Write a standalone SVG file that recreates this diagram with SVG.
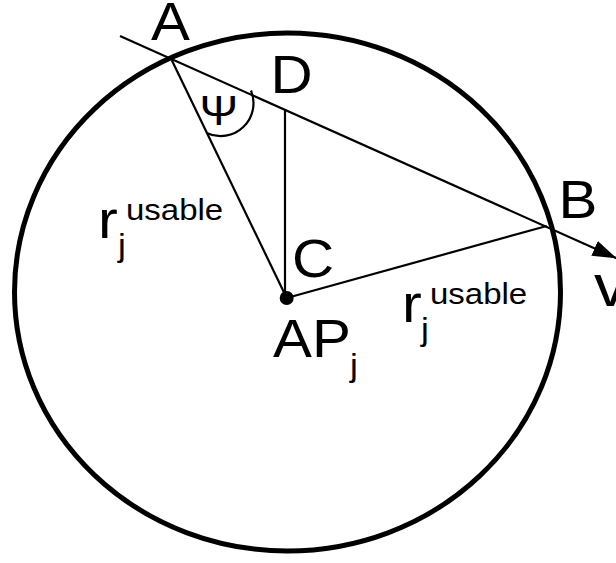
<svg xmlns="http://www.w3.org/2000/svg" width="616" height="563" viewBox="0 0 616 563">
  <style>
    .thin { stroke: #000; stroke-width: 2.2; fill: none; }
    .lbl { font-family: "Liberation Sans", Arial, sans-serif; fill: #000; }
    .big { font-size: 53px; }
    .sup { font-size: 30px; }
    .sub { font-size: 32px; }
  </style>
  <defs>
    <marker id="arrow" markerUnits="userSpaceOnUse" markerWidth="26" markerHeight="18" refX="24" refY="8" orient="auto">
      <path d="M0,0 L24,8 L0,16 Z" fill="#000"/>
    </marker>
  </defs>
  <rect width="616" height="563" fill="#fff"/>

  <g id="coverage">
    <ellipse cx="287.5" cy="292" rx="273" ry="259" fill="none" stroke="#000" stroke-width="5"/>
  </g>

  <g id="connectors">
    <line class="thin" x1="120" y1="36" x2="616.5" y2="258.2" marker-end="url(#arrow)"/>
    <line class="thin" x1="171.7" y1="60" x2="286.7" y2="298"/>
    <line class="thin" x1="286.7" y1="298" x2="546.7" y2="226"/>
    <line class="thin" x1="285" y1="109" x2="285" y2="298"/>
    <path class="thin" d="M251,90.5 A33,33 0 0 1 206.5,133"/>
  </g>

  <g id="AP">
    <circle cx="286.7" cy="298" r="7" fill="#000"/>
    <text class="lbl big" transform="translate(273,357) scale(1.1,1)">AP</text>
    <text class="lbl sub" transform="translate(350,376) scale(1.1,1)">j</text>
  </g>

  <g id="A">
    <text class="lbl big" transform="translate(151,40) scale(1.1,1)">A</text>
  </g>
  <g id="D">
    <text class="lbl big" transform="translate(270.5,93) scale(1.1,1)">D</text>
  </g>
  <g id="B">
    <text class="lbl big" transform="translate(558.5,218) scale(1.1,1)">B</text>
  </g>
  <g id="C">
    <text class="lbl big" transform="translate(292,277) scale(1.1,1)">C</text>
  </g>
  <g id="v">
    <text class="lbl" font-size="60" transform="translate(594,306) scale(1.1,1)">v</text>
  </g>
  <g id="psi">
    <text class="lbl" font-size="42" transform="translate(199.5,125) scale(1.1,1)">Ψ</text>
  </g>

  <g id="r-left">
    <text class="lbl" font-size="54" transform="translate(98,238) scale(1.1,1)">r</text>
    <text class="lbl sup" transform="translate(126,220) scale(1.1,1)">usable</text>
    <text class="lbl sub" transform="translate(118,256) scale(1.1,1)">j</text>
  </g>
  <g id="r-right">
    <text class="lbl" font-size="54" transform="translate(402,322) scale(1.1,1)">r</text>
    <text class="lbl sup" transform="translate(430,304) scale(1.1,1)">usable</text>
    <text class="lbl sub" transform="translate(421,340) scale(1.1,1)">j</text>
  </g>
</svg>
